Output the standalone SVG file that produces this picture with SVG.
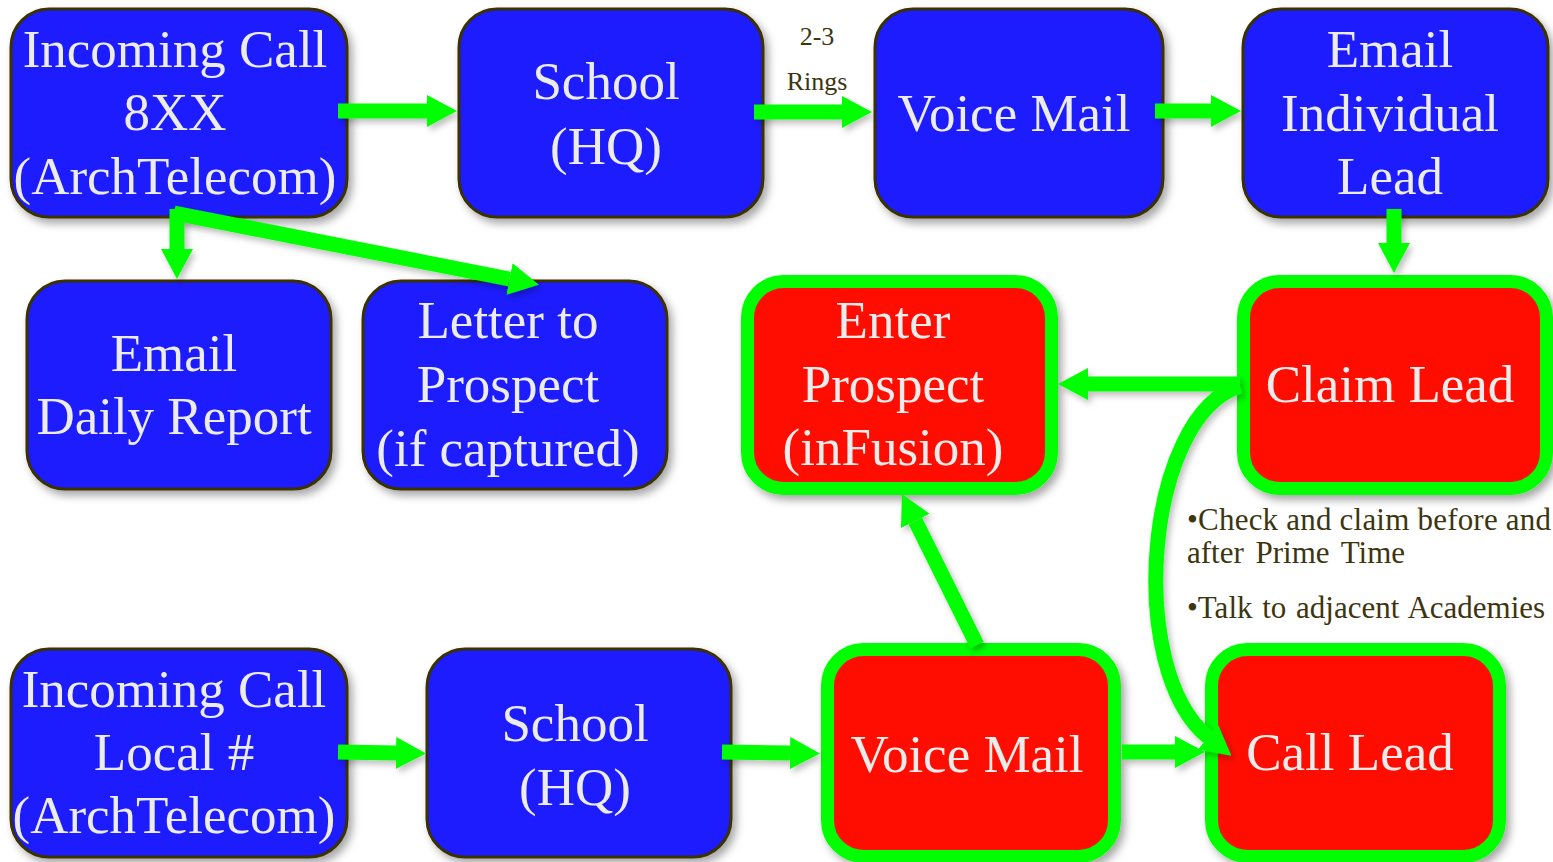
<svg xmlns="http://www.w3.org/2000/svg" width="1553" height="862" viewBox="0 0 1553 862">
  <defs>
    <filter id="shadow" x="-20%" y="-20%" width="140%" height="140%">
      <feDropShadow dx="4" dy="5" stdDeviation="4" flood-color="#000" flood-opacity="0.35"/>
    </filter>
    <filter id="ashadow" x="-20%" y="-20%" width="140%" height="140%">
      <feDropShadow dx="3" dy="4" stdDeviation="3" flood-color="#000" flood-opacity="0.25"/>
    </filter>
    <marker id="head" markerUnits="userSpaceOnUse" markerWidth="31" markerHeight="33" refX="0" refY="16" orient="auto" viewBox="0 0 31 32">
      <path d="M0,0 L30,16 L0,32 Z" fill="#00ff00"/>
    </marker>
  </defs>
  <style>
    .blue { fill: #1a1aff; stroke: #3b3300; stroke-width: 3; }
    .red { fill: #ff1100; stroke: #00ff00; stroke-width: 13; }
    .lbl { font-family: "Liberation Serif", "Times New Roman", serif; font-size: 53px; fill: #ececec; text-anchor: middle; }
    .note { font-family: "Liberation Serif", "Times New Roman", serif; fill: #3d3510; }
    .conn { fill: none; stroke: #00ff00; stroke-width: 15; marker-end: url(#head); }
  </style>
  <rect width="1553" height="862" fill="#ffffff"/>

  <g id="n1" filter="url(#shadow)">
    <rect class="blue" x="11" y="9" width="336" height="208" rx="38"/>
    <text class="lbl" x="175" y="67">Incoming Call</text>
    <text class="lbl" x="175" y="130">8XX</text>
    <text class="lbl" x="175" y="194">(ArchTelecom)</text>
  </g>
  <g id="n2" filter="url(#shadow)">
    <rect class="blue" x="459" y="9" width="304" height="208" rx="38"/>
    <text class="lbl" x="606" y="99">School</text>
    <text class="lbl" x="606" y="164">(HQ)</text>
  </g>
  <g id="n3" filter="url(#shadow)">
    <rect class="blue" x="875" y="9" width="288" height="208" rx="38"/>
    <text class="lbl" x="1014" y="131">Voice Mail</text>
  </g>
  <g id="n4" filter="url(#shadow)">
    <rect class="blue" x="1243" y="9" width="305" height="208" rx="38"/>
    <text class="lbl" x="1390" y="67">Email</text>
    <text class="lbl" x="1390" y="131">Individual</text>
    <text class="lbl" x="1390" y="194">Lead</text>
  </g>
  <g id="n5" filter="url(#shadow)">
    <rect class="blue" x="27" y="281" width="304" height="208" rx="38"/>
    <text class="lbl" x="174" y="371">Email</text>
    <text class="lbl" x="174" y="434">Daily Report</text>
  </g>
  <g id="n6" filter="url(#shadow)">
    <rect class="blue" x="363" y="281" width="304" height="208" rx="38"/>
    <text class="lbl" x="508" y="338">Letter to</text>
    <text class="lbl" x="508" y="402">Prospect</text>
    <text class="lbl" x="508" y="466">(if captured)</text>
  </g>
  <g id="n7" filter="url(#shadow)">
    <rect class="red" x="747.5" y="281.5" width="304" height="207" rx="36"/>
    <text class="lbl" x="893" y="338">Enter</text>
    <text class="lbl" x="893" y="402">Prospect</text>
    <text class="lbl" x="893" y="465">(inFusion)</text>
  </g>
  <g id="n8" filter="url(#shadow)">
    <rect class="red" x="1243.5" y="281.5" width="303" height="207" rx="36"/>
    <text class="lbl" x="1390" y="402">Claim Lead</text>
  </g>
  <g id="n9" filter="url(#shadow)">
    <rect class="red" x="827.5" y="649.5" width="287" height="207" rx="36"/>
    <text class="lbl" x="967" y="772">Voice Mail</text>
  </g>
  <g id="n10" filter="url(#shadow)">
    <rect class="red" x="1211.5" y="649.5" width="288" height="207" rx="36"/>
    <text class="lbl" x="1350" y="770">Call Lead</text>
  </g>
  <g id="n11" filter="url(#shadow)">
    <rect class="blue" x="11" y="649" width="336" height="208" rx="38"/>
    <text class="lbl" x="174" y="707">Incoming Call</text>
    <text class="lbl" x="174" y="770">Local #</text>
    <text class="lbl" x="174" y="833">(ArchTelecom)</text>
  </g>
  <g id="n12" filter="url(#shadow)">
    <rect class="blue" x="427" y="649" width="304" height="208" rx="38"/>
    <text class="lbl" x="575" y="741">School</text>
    <text class="lbl" x="575" y="805">(HQ)</text>
  </g>

  <g id="connectors" filter="url(#ashadow)">
    <path class="conn" d="M338,111 L427,111"/>
    <path class="conn" d="M754,112 L842,112"/>
    <path class="conn" d="M1155,111 L1211,111"/>
    <path class="conn" d="M1394,209 L1394,243"/>
    <path class="conn" d="M1240,384 L1088,384"/>
    <path class="conn" d="M177,209 L177,249"/>
    <path class="conn" d="M174,213 L509.5,279"/>
    <path class="conn" d="M977,645 L915.3,520.9"/>
    <path class="conn" d="M722,752 L790,753"/>
    <path class="conn" d="M338,752 L396,753"/>
    <path class="conn" d="M1122,752 L1175,752"/>
    <path class="conn" d="M1240,386 C1145,415 1125,670 1208,737"/>
  </g>

  <g id="ring-label" class="note" font-size="26" text-anchor="middle">
    <text x="817" y="45">2-3</text>
    <text x="817" y="90">Rings</text>
  </g>

  <g id="notes" class="note" font-size="31">
    <text x="1187" y="530" textLength="364" lengthAdjust="spacing">•Check and claim before and</text>
    <text x="1187" y="563" word-spacing="4">after Prime Time</text>
    <text x="1187" y="618" word-spacing="2">•Talk to adjacent Academies</text>
  </g>
</svg>
